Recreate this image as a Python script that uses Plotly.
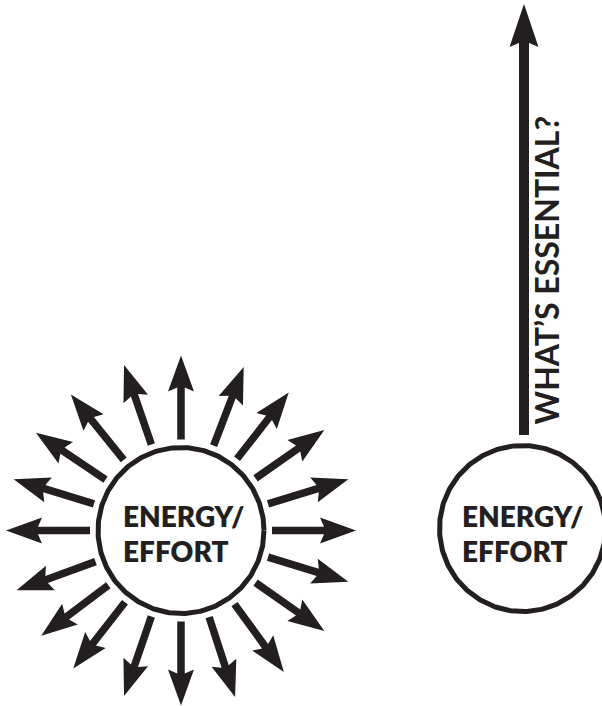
import numpy as np
import plotly.graph_objects as go

# ---- data ----
ray_angles_deg = [0, 17, 35, 52, 69, 90, 109, 129, 146, 163,
                  180, 200, 217, 232, 251, 270, 288, 306, 325, 343]
circle_lines = ["ENERGY/", "EFFORT"]
question_label = "WHAT\u2019S ESSENTIAL?"

# ---- styling / geometry ----
INK = "#231f20"
W, H = 602, 706
FONT = "Lato"

LEFT_C = (181, 530.5)
RIGHT_C = (522.5, 528.5)
CIRCLE_R = 83
CIRCLE_W = 5

RAY_R0, RAY_R1 = 91, 175
RAY_SHAFT, RAY_HEAD_L, RAY_HEAD_W, RAY_NOTCH = 7.5, 36, 26, 4

UP_X, UP_Y0, UP_Y1 = 524, 435, 4
UP_SHAFT, UP_HEAD_L, UP_HEAD_W, UP_NOTCH = 10, 43, 29, 4

fig = go.Figure()


def arrow_poly(x0, y0, ux, uy, length, shaft, head_l, head_w, notch):
    # ux, uy: unit direction in screen coordinates (y down)
    vx, vy = -uy, ux
    local = [(0, -shaft / 2), (length - head_l + notch, -shaft / 2),
             (length - head_l, -head_w / 2), (length, 0),
             (length - head_l, head_w / 2), (length - head_l + notch, shaft / 2),
             (0, shaft / 2), (0, -shaft / 2)]
    xs = [x0 + a * ux + b * vx for a, b in local]
    ys = [y0 + a * uy + b * vy for a, b in local]
    return xs, ys


def add_poly(xs, ys):
    fig.add_trace(go.Scatter(x=xs, y=ys, mode="lines", fill="toself",
                             fillcolor=INK, line=dict(width=0, color=INK),
                             hoverinfo="skip", showlegend=False))


# radiating arrows (left)
for a in ray_angles_deg:
    t = np.deg2rad(a)
    ux, uy = np.cos(t), -np.sin(t)
    x0 = LEFT_C[0] + RAY_R0 * ux
    y0 = LEFT_C[1] + RAY_R0 * uy
    xs, ys = arrow_poly(x0, y0, ux, uy, RAY_R1 - RAY_R0,
                        RAY_SHAFT, RAY_HEAD_L, RAY_HEAD_W, RAY_NOTCH)
    add_poly(xs, ys)

# single upward arrow (right)
xs, ys = arrow_poly(UP_X, UP_Y0, 0, -1, UP_Y0 - UP_Y1,
                    UP_SHAFT, UP_HEAD_L, UP_HEAD_W, UP_NOTCH)
add_poly(xs, ys)

# circles
th = np.linspace(0, 2 * np.pi, 361)
for cx, cy in (LEFT_C, RIGHT_C):
    fig.add_trace(go.Scatter(x=cx + CIRCLE_R * np.cos(th), y=cy + CIRCLE_R * np.sin(th),
                             mode="lines", line=dict(width=CIRCLE_W, color=INK),
                             hoverinfo="skip", showlegend=False))

# circle labels
label_font = dict(family=FONT, size=28, color=INK, weight=800)
for x_left in (121, 460):
    for line, yc in zip(circle_lines, (515.5, 550.5)):
        fig.add_annotation(x=x_left, y=yc, text=line, showarrow=False,
                           xanchor="left", yanchor="middle", font=label_font)

# rotated question
fig.add_annotation(x=545.5, y=270, text=question_label, showarrow=False,
                   textangle=-90, xanchor="center", yanchor="middle",
                   font=dict(family=FONT, size=32, color=INK, weight="bold"))

fig.update_layout(
    width=W, height=H, autosize=False,
    margin=dict(l=0, r=0, t=0, b=0),
    paper_bgcolor="white", plot_bgcolor="white",
    xaxis=dict(range=[0, W], visible=False, fixedrange=True),
    yaxis=dict(range=[H, 0], visible=False, fixedrange=True),
    showlegend=False,
)

fig.write_html("out.html", config={"displayModeBar": False},
               post_script="document.body.style.margin='0px';document.body.style.overflow='hidden';")
